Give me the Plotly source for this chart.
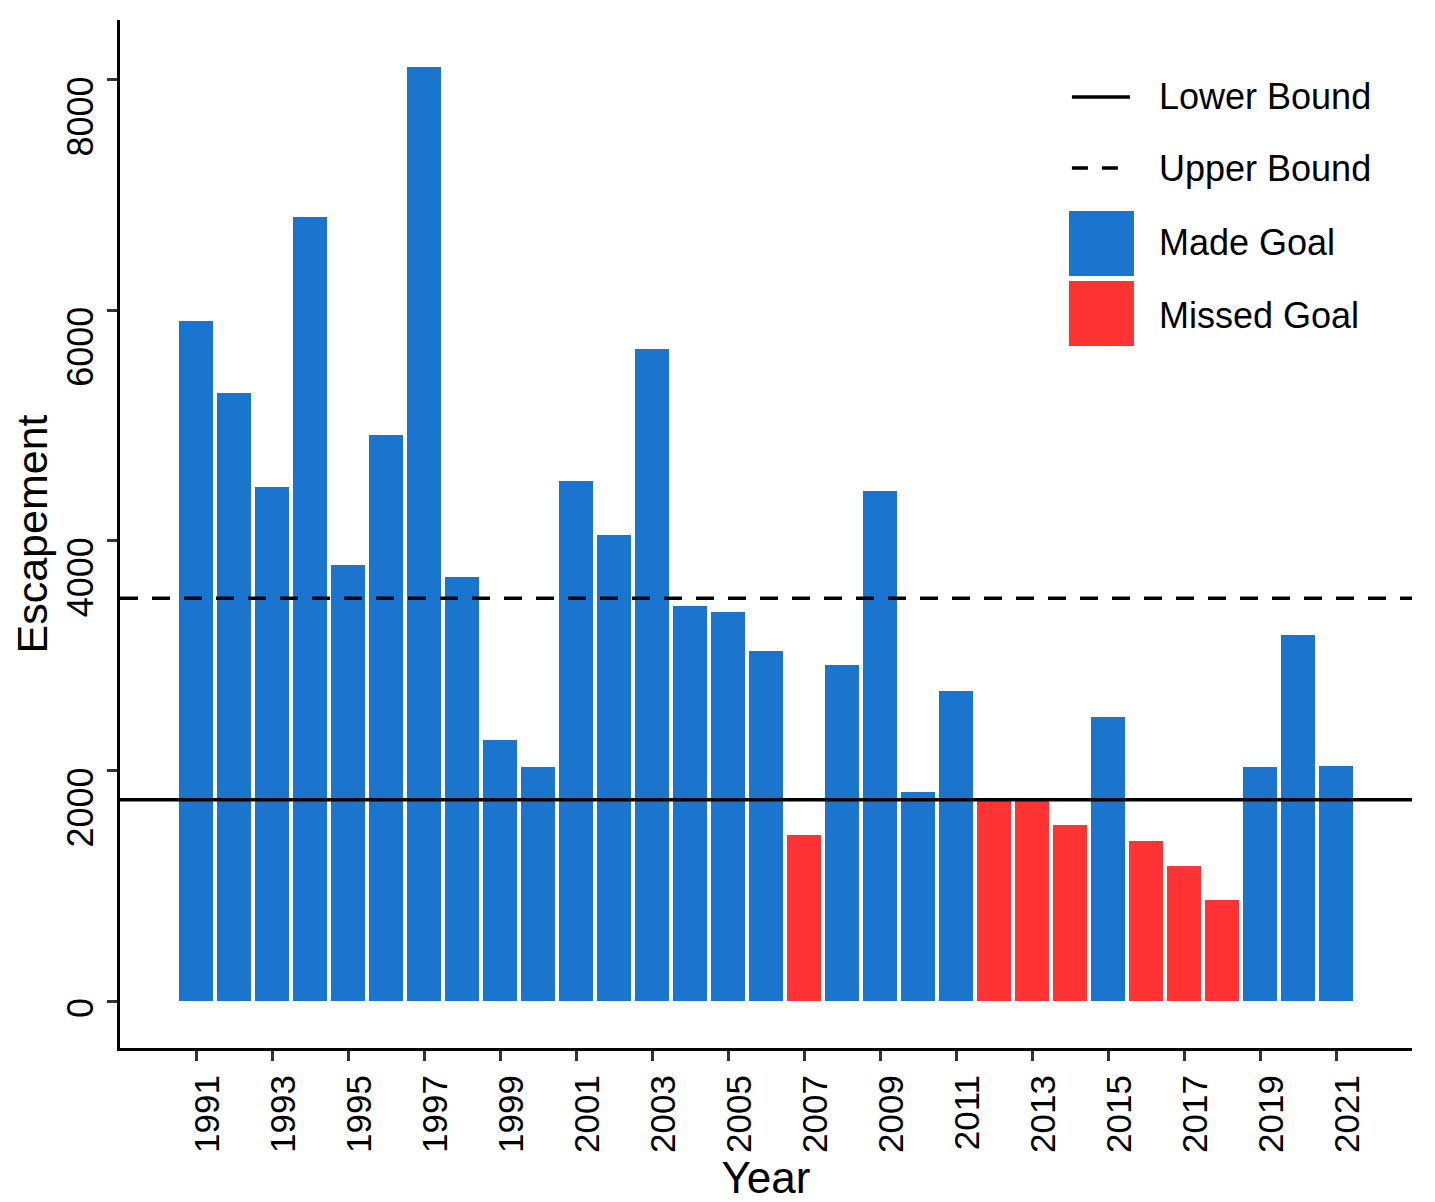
import plotly.graph_objects as go

years = list(range(1991, 2022))
escapement = [5905, 5281, 4468, 6805, 3792, 4918, 8113, 3680, 2268, 2035,
              4519, 4052, 5662, 3429, 3377, 3039, 1446, 2918, 4433, 1818,
              2693, 1745, 1748, 1532, 2468, 1394, 1177, 883, 2035, 3177, 2043]
lower_bound = 1750
upper_bound = 3500
x_tick_labels = [str(y) for y in range(1991, 2022, 2)]
y_tick_values = [0, 2000, 4000, 6000, 8000]

BLUE = "#1B75CF"
RED = "#FF3333"
FONT = "Liberation Sans, Arial, sans-serif"

made_x = [y for y, e in zip(years, escapement) if e >= lower_bound]
made_v = [e for e in escapement if e >= lower_bound]
miss_x = [y for y, e in zip(years, escapement) if e < lower_bound]
miss_v = [e for e in escapement if e < lower_bound]

fig = go.Figure()
fig.add_trace(go.Bar(x=made_x, y=made_v, name="Made Goal", width=0.88,
                     marker=dict(color=BLUE, line=dict(width=0)), showlegend=False))
fig.add_trace(go.Bar(x=miss_x, y=miss_v, name="Missed Goal", width=0.88,
                     marker=dict(color=RED, line=dict(width=0)), showlegend=False))

fig.add_hline(y=lower_bound, line=dict(color="black", width=3.5))
fig.add_hline(y=upper_bound, line=dict(color="black", width=3.5, dash="18px,14px"))

# custom legend
lx0, lx1 = 0.7368, 0.7817
tx = 0.8025
fig.add_shape(type="line", xref="paper", yref="paper", x0=lx0, x1=lx1, y0=0.9251, y1=0.9251,
              line=dict(color="black", width=3.5))
fig.add_shape(type="line", xref="paper", yref="paper", x0=lx0, x1=lx1, y0=0.8560, y1=0.8560,
              line=dict(color="black", width=3.5, dash="16px,14px"))
fig.add_shape(type="rect", xref="paper", yref="paper", x0=0.7345, x1=0.7848, y0=0.7510, y1=0.8142,
              fillcolor=BLUE, line=dict(width=0))
fig.add_shape(type="rect", xref="paper", yref="paper", x0=0.7345, x1=0.7848, y0=0.6829, y1=0.7461,
              fillcolor=RED, line=dict(width=0))
for label, yy in [("Lower Bound", 0.9251), ("Upper Bound", 0.8560),
                  ("Made Goal", 0.7831), ("Missed Goal", 0.7130)]:
    fig.add_annotation(text=label, xref="paper", yref="paper", x=tx, y=yy,
                       xanchor="left", yanchor="middle", showarrow=False,
                       font=dict(family=FONT, size=36, color="black"))

fig.update_layout(
    width=1435, height=1202,
    margin=dict(l=112, r=31, t=12, b=162),
    plot_bgcolor="white", paper_bgcolor="white",
    bargap=0, barmode="overlay",
    font=dict(family=FONT, color="black"),
)
fig.update_xaxes(
    range=[1989, 2023], automargin=False,
    tickmode="array", tickvals=[int(t) for t in x_tick_labels], ticktext=x_tick_labels,
    tickangle=-90, tickfont=dict(size=35, color="black", family=FONT),
    ticklabelshift=12, ticklabeloverflow="allow",
    ticks="outside", ticklen=10, tickwidth=3, tickcolor="#333333",
    showline=True, linecolor="black", linewidth=3, showgrid=False, zeroline=False,
    title=dict(text="Year", font=dict(size=44, family=FONT, color="black"), standoff=6),
)
fig.update_yaxes(
    range=[-405, 8519], automargin=False,
    tickmode="array", tickvals=y_tick_values,
    ticktext=[str(v).rjust(4, "\u2007") for v in y_tick_values],
    tickangle=-90, tickfont=dict(size=36, color="black", family=FONT),
    ticklabelshift=42, ticklabeloverflow="allow",
    ticks="outside", ticklen=10, tickwidth=3, tickcolor="#333333",
    showline=True, linecolor="black", linewidth=3, showgrid=False, zeroline=False,
    title=dict(text="Escapement", font=dict(size=43, family=FONT, color="black"), standoff=12),
)

fig.write_html("out.html")
